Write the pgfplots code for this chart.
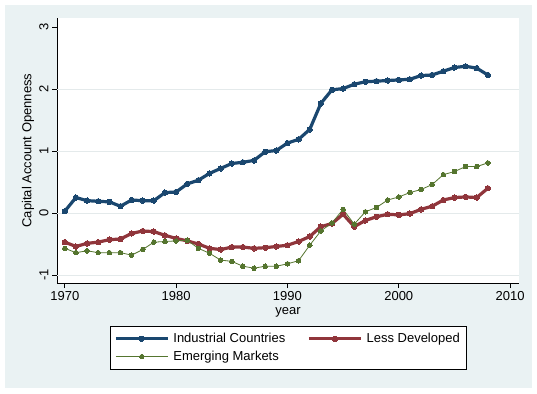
\documentclass[border=0pt]{standalone}
\usepackage{fontspec}
\setmainfont{Liberation Sans}
\usepackage{pgfplots}
\pgfplotsset{compat=1.18}
\definecolor{bgcol}{RGB}{234,242,243}
\definecolor{gridcol}{RGB}{228,234,235}
\definecolor{navyc}{RGB}{26,71,111}
\definecolor{maroonc}{RGB}{144,53,59}
\definecolor{greenc}{RGB}{85,117,47}
\begin{document}
\begin{tikzpicture}
\path[use as bounding box] (0,0) rectangle (537pt,393pt);
\fill[bgcol] (5pt,5pt) rectangle (532pt,388pt);
\begin{axis}[
  at={(57pt,110pt)}, anchor=south west,
  scale only axis, width=462pt, height=265pt,
  xmin=1969.3, xmax=2010.8, ymin=-1.13, ymax=3.15,
  axis background/.style={fill=white},
  axis x line*=bottom, axis y line*=left,
  axis line style={line width=0.7pt},
  tick align=outside, major tick length=5pt,
  tick style={black, line width=0.7pt},
  xtick={1970,1980,1990,2000,2010},
  xticklabels={1970,1980,1990,2000,2010},
  ytick={-1,0,1,2,3},
  yticklabels={-1,0,1,2,3},
  extra y ticks={-1,0,1,2},
  extra y tick labels={},
  extra y tick style={ymajorgrids=true, major tick length=0pt, major grid style={gridcol, line width=0.8pt}},
  font=\fontsize{13}{15}\selectfont,
  yticklabel style={rotate=90, anchor=south},
  xlabel={year}, ylabel={Capital Account Openness},
  every axis x label/.style={at={(axis description cs:0.5,0)}, anchor=center, yshift=-29pt},
  every axis y label/.style={at={(axis description cs:0,0.5)}, xshift=-29pt, anchor=center, rotate=90},
  legend columns=2,
  legend style={at={(0.5,-0.1623)}, anchor=north, draw=black, line width=0.6pt, fill=white,
    font=\fontsize{13}{15}\selectfont, inner xsep=4pt, inner ysep=5pt,
    /tikz/every even column/.append style={column sep=20pt},
    /tikz/every odd column/.append style={column sep=2pt},
    row sep=3pt},
  legend cell align=left,
  legend image code/.code={\draw[mark repeat=2,mark phase=2,#1] plot coordinates {(0pt,0pt) (26pt,0pt) (52pt,0pt)};},
]
\addplot[navyc, line width=3.2pt, mark=*, mark size=2.7pt, mark options={line width=0pt}] coordinates {
(1970,0.03) (1971,0.25) (1972,0.20) (1973,0.19) (1974,0.18) (1975,0.11) (1976,0.21) (1977,0.20) (1978,0.20) (1979,0.33)
(1980,0.34) (1981,0.47) (1982,0.53) (1983,0.64) (1984,0.72) (1985,0.80) (1986,0.82) (1987,0.85) (1988,0.99) (1989,1.01)
(1990,1.13) (1991,1.19) (1992,1.35) (1993,1.77) (1994,1.99) (1995,2.01) (1996,2.08) (1997,2.12) (1998,2.13) (1999,2.14)
(2000,2.15) (2001,2.16) (2002,2.22) (2003,2.23) (2004,2.29) (2005,2.35) (2006,2.37) (2007,2.34) (2008,2.23)};
\addlegendentry{Industrial Countries}
\addplot[maroonc, line width=3.2pt, mark=*, mark size=2.7pt, mark options={line width=0pt}] coordinates {
(1970,-0.47) (1971,-0.54) (1972,-0.49) (1973,-0.47) (1974,-0.43) (1975,-0.42) (1976,-0.33) (1977,-0.29) (1978,-0.30) (1979,-0.36)
(1980,-0.41) (1981,-0.45) (1982,-0.50) (1983,-0.57) (1984,-0.59) (1985,-0.55) (1986,-0.55) (1987,-0.57) (1988,-0.56) (1989,-0.54)
(1990,-0.52) (1991,-0.46) (1992,-0.38) (1993,-0.22) (1994,-0.17) (1995,-0.02) (1996,-0.22) (1997,-0.12) (1998,-0.06) (1999,-0.02)
(2000,-0.03) (2001,-0.01) (2002,0.06) (2003,0.11) (2004,0.21) (2005,0.25) (2006,0.26) (2007,0.25) (2008,0.40)};
\addlegendentry{Less Developed}
\addplot[greenc, line width=0.8pt, mark=*, mark size=2.3pt, mark options={line width=0pt}] coordinates {
(1970,-0.57) (1971,-0.64) (1972,-0.61) (1973,-0.64) (1974,-0.64) (1975,-0.64) (1976,-0.68) (1977,-0.59) (1978,-0.47) (1979,-0.46)
(1980,-0.45) (1981,-0.44) (1982,-0.57) (1983,-0.65) (1984,-0.76) (1985,-0.78) (1986,-0.86) (1987,-0.89) (1988,-0.86) (1989,-0.86)
(1990,-0.82) (1991,-0.77) (1992,-0.52) (1993,-0.29) (1994,-0.16) (1995,0.06) (1996,-0.18) (1997,0.02) (1998,0.09) (1999,0.21)
(2000,0.26) (2001,0.33) (2002,0.38) (2003,0.46) (2004,0.62) (2005,0.67) (2006,0.75) (2007,0.75) (2008,0.81)};
\addlegendentry{Emerging Markets}
\end{axis}
\end{tikzpicture}
\end{document}
